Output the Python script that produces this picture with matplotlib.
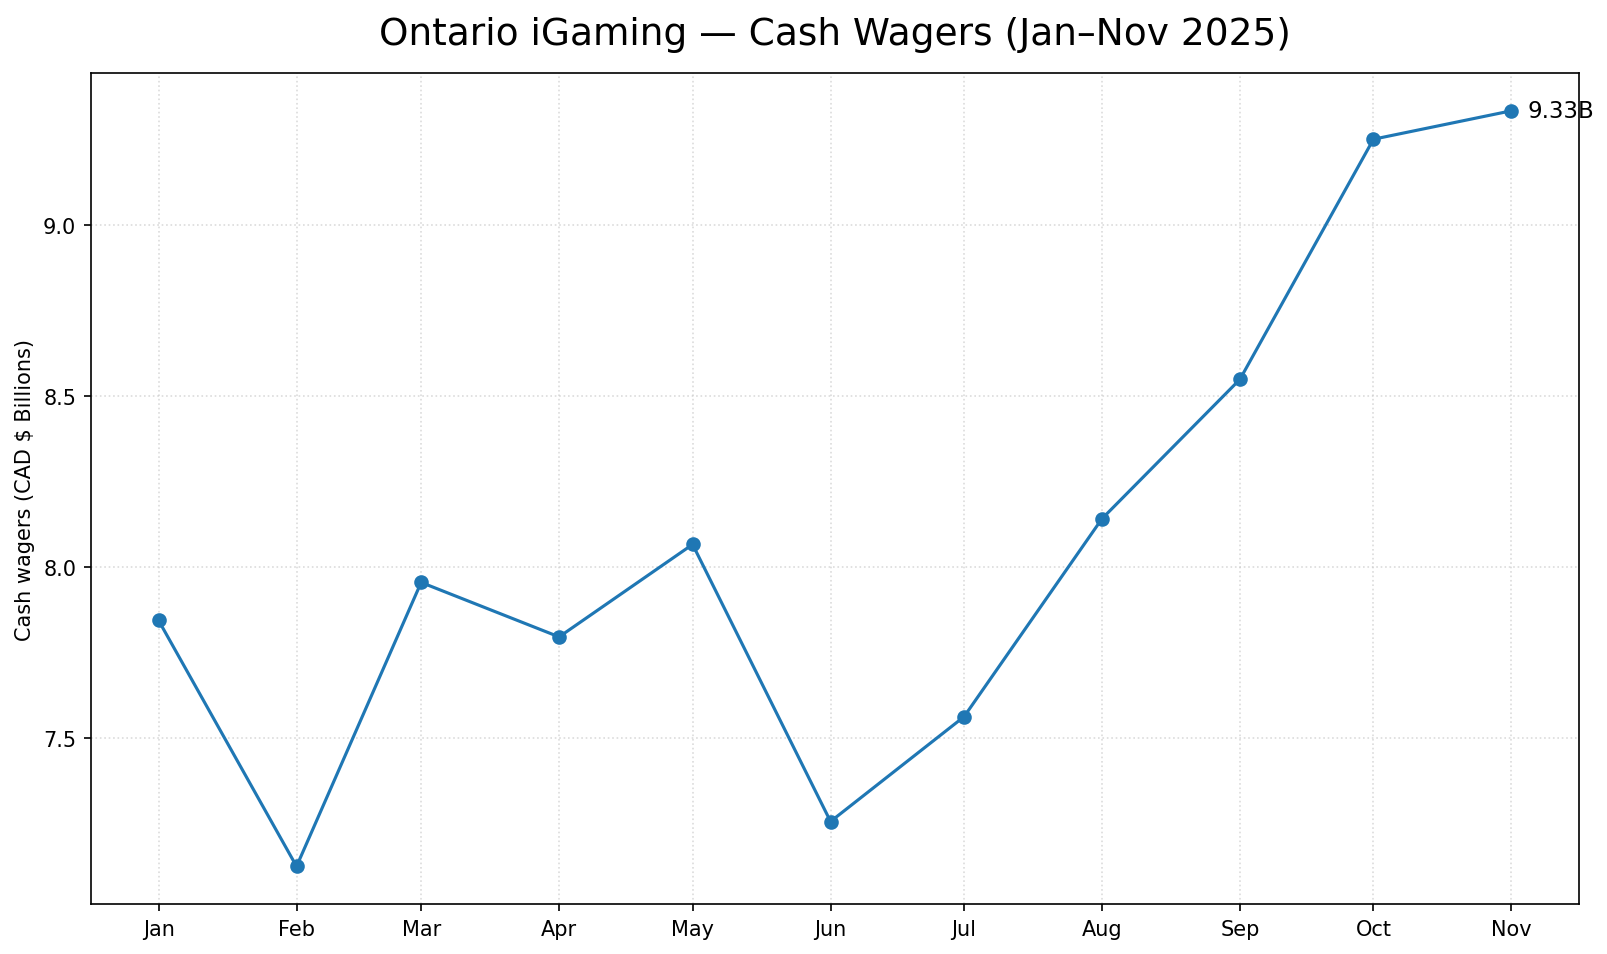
import matplotlib
matplotlib.use("Agg")
import matplotlib.pyplot as plt
import matplotlib.dates as mdates
import pandas as pd

months = ["2025-01", "2025-02", "2025-03", "2025-04", "2025-05", "2025-06",
          "2025-07", "2025-08", "2025-09", "2025-10", "2025-11"]
wagers = [7.844, 7.126, 7.955, 7.796, 8.066, 7.257, 7.563, 8.141, 8.548, 9.249, 9.332]

dates = pd.to_datetime(months)

fig, ax = plt.subplots(figsize=(1607 / 150, 955 / 150), dpi=150)
fig.subplots_adjust(left=0.0566, right=0.9826, top=0.9225, bottom=0.0522)

ax.plot(dates, wagers, marker="o", color="#1f77b4", linewidth=1.5, markersize=6)

ax.xaxis.set_major_locator(mdates.MonthLocator())
ax.xaxis.set_major_formatter(mdates.DateFormatter("%b"))
ax.set_yticks([7.5, 8.0, 8.5, 9.0])
ax.set_ylabel("Cash wagers (CAD $ Billions)")
ax.grid(True, linestyle=":", color="#cccccc", linewidth=0.8, alpha=0.7)
ax.set_title("Ontario iGaming — Cash Wagers (Jan–Nov 2025)", fontsize=18, pad=14)

# label the latest value
ax.annotate(f"{wagers[-1]:.2f}B", (dates[-1], wagers[-1]), xytext=(7.5, 0),
            textcoords="offset points", va="center", ha="left", fontsize=11)

fig.savefig("out.png", dpi=150)
